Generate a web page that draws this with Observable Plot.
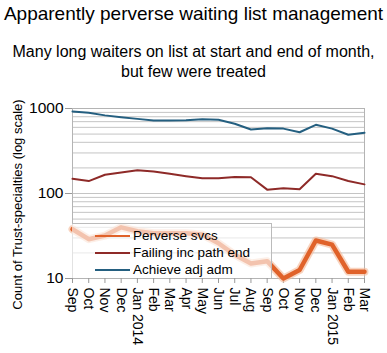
<!DOCTYPE html>
<html>
<head>
<meta charset="utf-8">
<script src="https://cdn.jsdelivr.net/npm/d3@7"></script>
<script src="https://cdn.jsdelivr.net/npm/@observablehq/plot@0.6"></script>
<style>
  body { margin: 0; background: #fff; font-family: "Liberation Sans", Arial, sans-serif; }
  #wrap { position: relative; width: 387px; height: 353px; overflow: hidden; }
  #title { height: 28px; line-height: 28px; font-size: 19px; text-align: center; color: #000; white-space: nowrap; }
  #subtitle { margin-top: 14px; height: 40px; line-height: 20px; font-size: 16px; text-align: center; color: #000; }
  #spacer { height: 3px; }
  #legend { position: absolute; left: 72px; top: 223px; width: 199px; height: 54px;
            background: rgba(255,255,255,0.62); border-top: 1px solid #bbb; border-right: 1px solid #bbb; }
  .row { position: absolute; left: 23px; height: 17px; display: flex; align-items: center; font-size: 13.5px; white-space: nowrap; }
  .sw { width: 35px; height: 2px; margin-right: 3px; }
</style>
</head>
<body>
<div id="wrap">
  <div id="title"></div>
  <div id="subtitle"></div>
  <div id="spacer"></div>
  <div id="chart"></div>
  <div id="legend"></div>
</div>
<script>
const titleText = "Apparently perverse waiting list management";
const subtitleLines = ["Many long waiters on list at start and end of month,", "but few were treated"];
const yLabel = "Count of Trust-specialties (log scale)";
const monthLabels = ["Sep","Oct","Nov","Dec","Jan 2014","Feb","Mar","Apr","May","Jun","Jul","Aug","Sep","Oct","Nov","Dec","Jan 2015","Feb","Mar"];
const seriesNames = ["Perverse svcs", "Failing inc path end", "Achieve adj adm"];
const seriesColors = ["#e0622a", "#8e2a28", "#245f80"];
const perverse = [38, 29, 32, 40, 36, 34, 34, 34, 33, 26, 19, 15, 16, 10, 12.6, 28, 25, 12, 12];
const failing  = [149, 140, 166, 177, 188, 182, 171, 160, 151, 151, 156, 155, 111, 115, 112, 171, 160, 140, 128];
const achieve  = [920, 890, 830, 790, 755, 722, 722, 728, 748, 736, 661, 566, 587, 580, 526, 643, 580, 491, 518];
const yTicks = [10, 100, 1000];

document.getElementById("title").textContent = titleText;
document.getElementById("subtitle").innerHTML = subtitleLines.join("<br>");

const idx = d3.range(monthLabels.length);
const grid = [];
for (const base of [10, 100]) for (let k = 1; k <= 9; k++) grid.push(base * k);
grid.push(1000);

const mk = arr => idx.map(i => ({i, v: arr[i]}));

const chart = Plot.plot({
  width: 387,
  height: 268,
  marginTop: 23,
  marginBottom: 75,
  marginLeft: 72,
  marginRight: 23,
  style: {fontFamily: "Liberation Sans, Arial, sans-serif", color: "#000", background: "#fff", overflow: "visible"},
  x: {type: "linear", domain: [0, monthLabels.length - 1]},
  y: {type: "log", domain: [10, 1000]},
  marks: [
    Plot.ruleY(grid, {stroke: "#c4c4c4", strokeWidth: 1}),
    Plot.frame({stroke: "#b4b4b4"}),
    Plot.axisY({ticks: yTicks, tickFormat: d => String(d), tickSize: 7, tickPadding: 2, fontSize: 15.5, stroke: "#999", label: null}),
    Plot.axisX({ticks: idx, tickFormat: i => monthLabels[i], tickRotate: 90, tickSize: 5, tickPadding: 4, fontSize: 14, stroke: "#999", label: null}),
    Plot.text([yLabel], {frameAnchor: "left", textAnchor: "middle", dx: -55, dy: 11, rotate: -90, fontSize: 13, fill: "#000"}),
    Plot.line(mk(achieve), {x: "i", y: "v", stroke: seriesColors[2], strokeWidth: 2}),
    Plot.line(mk(failing), {x: "i", y: "v", stroke: seriesColors[1], strokeWidth: 2}),
    Plot.line(mk(perverse), {x: "i", y: "v", stroke: "#f4b896", strokeWidth: 8, strokeOpacity: 0.6}),
    Plot.line(mk(perverse), {x: "i", y: "v", stroke: seriesColors[0], strokeWidth: 4.5})
  ]
});
document.getElementById("chart").appendChild(chart);

const legend = document.getElementById("legend");
seriesNames.forEach((name, k) => {
  const row = document.createElement("div");
  row.className = "row";
  row.style.top = (3 + k * 17) + "px";
  const sw = document.createElement("div");
  sw.className = "sw";
  sw.style.background = seriesColors[k];
  const t = document.createElement("span");
  t.textContent = name;
  row.appendChild(sw);
  row.appendChild(t);
  legend.appendChild(row);
});
</script>
</body>
</html>
